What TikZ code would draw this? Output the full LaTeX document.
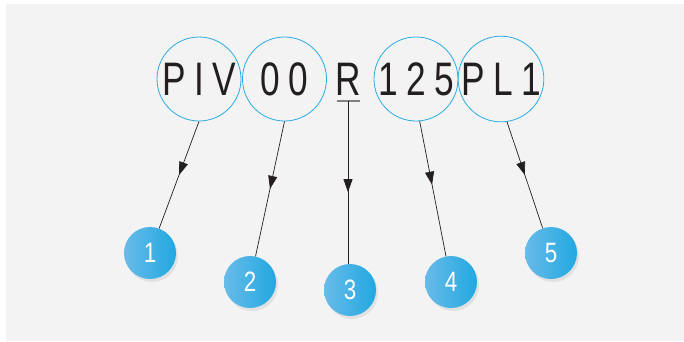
\documentclass[tikz,border=0pt]{standalone}
\usepackage{fontspec}
\usetikzlibrary{arrows.meta,decorations.markings,shadows}

\newfontfamily\codefont[FakeStretch=0.75,LetterSpace=18]{Liberation Sans}
\newfontfamily\numfont[FakeStretch=0.8]{Liberation Sans}

\definecolor{ringblue}{RGB}{41,171,226}
\definecolor{ballleft}{RGB}{104,187,232}
\definecolor{ballright}{RGB}{33,168,225}
\definecolor{inkdark}{RGB}{35,31,32}
\definecolor{paper}{RGB}{243,243,243}

\tikzset{
  code text/.style={inner sep=0pt, text=inkdark, font=\codefont\fontsize{47}{50}\selectfont},
  code ring/.style={code text, circle, draw=ringblue, line width=0.8pt, minimum size=84pt},
  ball/.style={circle, minimum size=52pt, inner sep=0pt, left color=ballleft, right color=ballright,
    text=white, font=\numfont\fontsize{28}{30}\selectfont,
    drop shadow={opacity=0.15, shadow xshift=2pt, shadow yshift=-3pt}},
  pointer/.style={draw=inkdark, line width=0.7pt, postaction={decorate},
    decoration={markings, mark=at position #1 with {\arrow{Triangle[length=13pt,width=9pt]}}}},
  pointer/.default=0.5
}

\begin{document}
\begin{tikzpicture}[x=1pt,y=1pt,yscale=-1,xscale=1]
  \useasboundingbox (0,0) rectangle (684,341);
  % background
  \fill[paper] (6,4) rectangle (684,341);

  % code groups
  \node[code ring] (piv) at (199,79) {PIV};
  \node[code ring] (zero) at (284.5,79) {00};
  \node[code text] (r) at (348,79) {R};
  \node[code ring] (size) at (416,79) {125};
  \node[code ring] (pl) at (501,79) {PL1};
  % bar under R
  \draw[gray, line width=1.2pt] (337,101) -- (360,101);
  \coordinate (rbar) at (348,101);

  % numbered balls
  \node[ball] (n1) at (150,253) {1};
  \node[ball] (n2) at (250,282) {2};
  \node[ball] (n3) at (350,290) {3};
  \node[ball] (n4) at (451,282) {4};
  \node[ball] (n5) at (551,253) {5};

  % pointers
  \draw[pointer] (piv.south) -- (n1);
  \draw[pointer] (zero.south) -- (n2);
  \draw[pointer=0.56] (rbar) -- (rbar |- n3.north);
  \draw[pointer=0.47] (size.-85) -- (n4);
  \draw[pointer] (pl.-82) -- (n5);
\end{tikzpicture}
\end{document}
